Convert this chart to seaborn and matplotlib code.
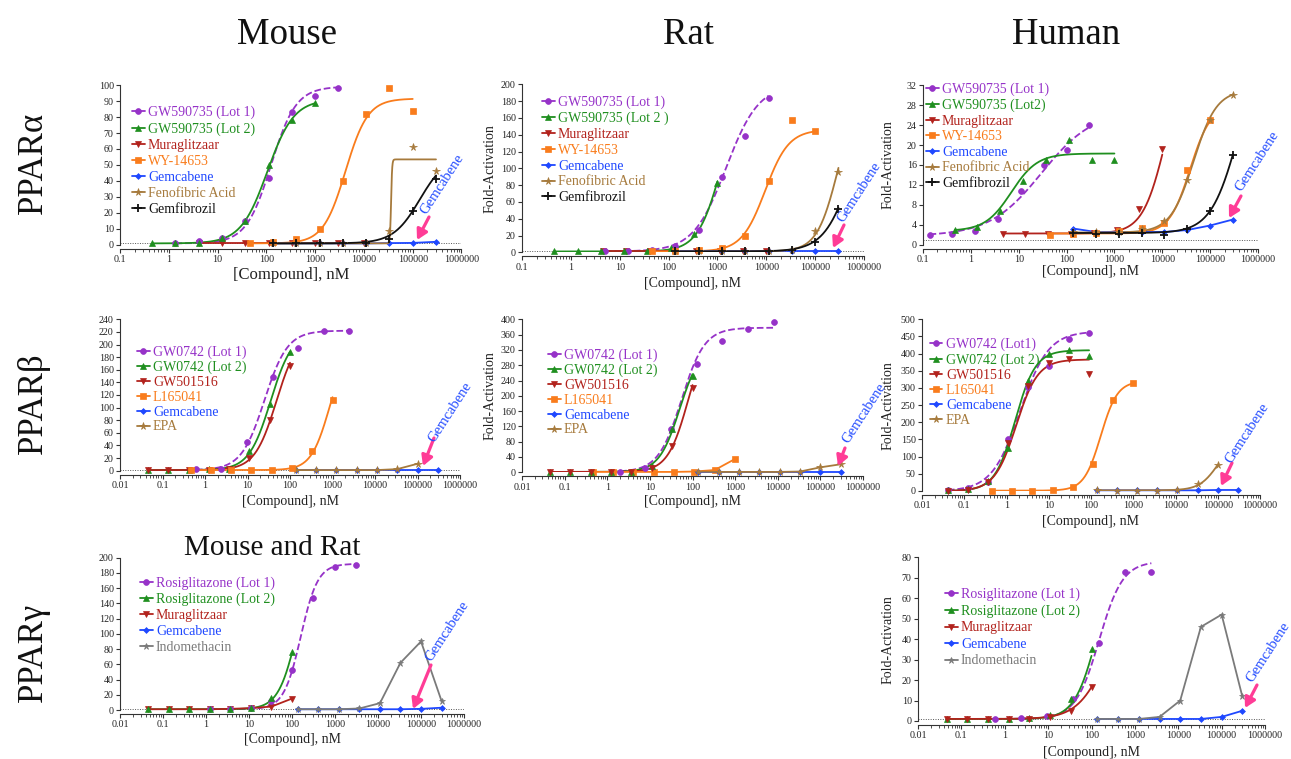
import numpy as np
import matplotlib
matplotlib.use("Agg")
import matplotlib.pyplot as plt
from matplotlib.lines import Line2D
from matplotlib.ticker import FixedLocator, LogLocator, NullFormatter, FuncFormatter
import seaborn as sns

W, H, DPI = 1291, 759, 100

# ------------------------------------------------------------------ data
# dilution series (nM)
DIL_P046 = [0.46, 1.37, 4.1, 12.3, 37, 111, 333, 1000]
DIL_046 = [0.046, 0.137, 0.41, 1.23, 3.7, 11.1, 33.3, 100]
DIL_137 = [137, 411, 1235, 3700, 11100, 33300, 100000, 300000]
DIL_46 = [46, 137, 411, 1235, 3700, 11100, 33300, 100000]
DIL_4P6 = [4.6, 13.7, 41, 123, 370, 1111, 3333, 10000]
DIL_EPA = [137, 411, 1235, 3700, 11100, 33300, 100000]

# fit parameters: [bottom, top, EC50 (nM), Hill slope]
# --- Mouse PPARa
MA_GW1_X = [1.37, 4.1, 12.3, 37, 111, 333, 1000, 3000]
MA_GW1_Y = [1.5, 2.5, 4.5, 15, 42, 83, 93, 98]
MA_GW1_FIT = [1, 99, 125, 1.7]
MA_GW2_Y = [1, 1, 1.5, 4.5, 15, 50, 78, 89]
MA_GW2_FIT = [1, 91, 105, 1.6]
MA_MUR_X = [4.1, 12.3, 37, 111, 333, 1000, 3000, 10000]
MA_MUR_Y = [1.2, 1.2, 1.2, 1.2, 1.2, 1.2, 1.2, 1.2]
MA_WY_Y = [1, 2, 3.7, 10, 40, 82, 98, 84]
MA_WY_FIT = [1, 91.5, 4200, 1.9]
MA_GEM_Y = [1, 1, 1, 1, 1, 1.2, 1.3, 2]
MA_FEN_Y = [1, 1, 1, 1, 1, 9, 61, 46]
MA_FEN_FIT = [1, 53.5, 36000, 40]
MA_GFZ_Y = [1, 1, 1, 1, 1.5, 4, 21, 41]
MA_GFZ_FIT = [1, 56, 140000, 1.6]
# --- Rat PPARa
RA_GW1_X = [5, 15, 46, 137, 412, 1235, 3700, 11100]
RA_GW1_Y = [1, 1.5, 3, 7, 26, 90, 139, 184]
RA_GW1_FIT = [1, 200, 1500, 1.3]
RA_GW2_Y = [1, 1, 1, 1, 1.5, 5.5, 22, 83]
RA_GW2_FIT = [1, 200, 1200, 1.8]
RA_MUR_Y = [1.5, 1.5, 1.5, 1.5, 1.5, 1.5, 1.5, 1.5]
RA_WY_Y = [1, 1.5, 3, 5, 19, 85, 158, 145]
RA_WY_FIT = [1, 146, 9500, 1.8]
RA_GEM_Y = [1, 1, 1, 1, 1, 1, 1, 1]
RA_FEN_Y = [1, 1, 1, 1, 1.5, 3, 25, 96]
RA_FEN_FIT = [1, 200, 300000, 2]
RA_GFZ_Y = [1, 1, 1, 1, 1, 2.5, 12, 51]
RA_GFZ_FIT = [1, 200, 600000, 1.5]
# --- Human PPARa
HA_GW1_X = [0.137, 0.41, 1.23, 3.7, 11.1, 33.3, 100, 300]
HA_GW1_Y = [2.1, 2.3, 2.8, 5.3, 10.9, 16, 19, 24]
HA_GW1_FIT = [1.8, 27, 30, 0.8]
HA_GW2_Y = [3.1, 3.7, 6.8, 12.8, 17, 21, 17, 17]
HA_GW2_FIT = [2.8, 18.3, 7, 1.6]
HA_MUR_Y = [2.3, 2.3, 2.3, 2.3, 2.4, 3.1, 7.2, 19.3]
HA_MUR_FIT = [2.3, 40, 12000, 1.8]
HA_WY_Y = [2.1, 2.2, 2.5, 2.8, 3.5, 4.5, 15, 25]
HA_WY_FIT = [2.3, 28, 38000, 2]
HA_GEM_Y = [3.3, 2.6, 2.6, 2.6, 2.6, 3.0, 3.9, 5.1]
HA_FEN_Y = [2.6, 2.6, 2.7, 3.2, 4.8, 13, 25, 30]
HA_FEN_FIT = [2.5, 31, 45000, 1.8]
HA_GFZ_Y = [2.5, 2.3, 2.3, 2.5, 2.1, 3.2, 6.8, 18]
HA_GFZ_FIT = [2.4, 42.4, 400000, 1.5]
# --- Mouse PPARb
MB_GW1_X = [0.61, 2.44, 9.8, 39, 156, 625, 2500]
MB_GW1_Y = [2, 3, 45, 148, 195, 221, 222]
MB_GW1_FIT = [1, 222, 25, 1.6]
MB_GW2_Y = [0.5, 0.5, 1, 2, 3, 32, 105, 188]
MB_GW2_FIT = [1, 220, 35, 1.7]
MB_501_Y = [1, 1, 1, 1.5, 3, 19.5, 80, 166]
MB_501_FIT = [1, 220, 48, 1.7]
MB_L16_Y = [1, 1, 0.5, 0.5, 1.5, 5, 32, 112]
MB_L16_FIT = [1, 200, 850, 2]
MB_GEM_Y = [1, 1, 1, 1, 1, 1, 1, 1]
MB_EPA_Y = [1, 1, 1, 1, 1, 2.5, 11]
# --- Rat PPARb
RB_GW1_X = [2, 7.8, 31, 125, 500, 2000, 8000]
RB_GW1_Y = [2, 10, 112, 282, 344, 374, 392]
RB_GW1_FIT = [1, 378, 55, 1.6]
RB_GW2_Y = [1, 1, 1, 1, 2, 17, 112, 252]
RB_GW2_FIT = [1, 330, 50, 1.8]
RB_501_Y = [1, 1, 1, 1, 2, 12, 69, 220]
RB_501_FIT = [1, 380, 80, 1.8]
RB_L16_Y = [1, 1, 1, 1, 1, 2, 6, 35]
RB_GEM_Y = [1, 1, 1, 1, 1, 1, 1, 1]
RB_EPA_Y = [2, 1, 1, 1, 1, 2, 13, 21]
# --- Human PPARb
HB_X = [0.041, 0.123, 0.37, 1.1, 3.3, 10, 30, 90]
HB_GW1_Y = [3, 8, 25, 150, 302, 364, 444, 459]
HB_GW1_FIT = [0, 465, 2.1, 1.3]
HB_GW2_Y = [2, 5, 28, 125, 320, 400, 410, 393]
HB_GW2_FIT = [0, 410, 1.6, 1.8]
HB_501_Y = [1, 2, 25, 140, 305, 374, 384, 342]
HB_501_FIT = [0, 383, 1.7, 1.7]
HB_L16_Y = [1, 1, 1, 2, 11, 79, 265, 314]
HB_L16_FIT = [1, 320, 170, 2.2]
HB_GEM_Y = [2, 2, 2, 2, 2, 2, 3, 3]
HB_EPA_Y = [3, 1, 1, 1, 2, 20, 75]
HB_EPA_FIT = [2, 150, 100000, 2]
# --- Mouse and Rat PPARg
MG_RO1_X = [1.23, 3.7, 11.1, 33.3, 100, 300, 1000, 3000]
MG_RO1_Y = [1, 1, 3, 12, 53, 147, 188, 191]
MG_RO1_FIT = [1, 192, 160, 2.2]
MG_RO2_Y = [1, 1, 1, 1, 1, 2, 16, 76]
MG_RO2_FIT = [1, 200, 130, 2]
MG_MUR_Y = [1, 1, 1, 1, 1.5, 2.5, 4.5, 15]
MG_GEM_Y = [1, 1, 1, 1, 1, 1, 1.5, 3]
MG_IND_Y = [1, 1, 1, 2, 9, 62, 90, 12]
# --- Human PPARg
HG_RO1_X = [0.6, 2.4, 9.4, 37.5, 150, 600, 2400]
HG_RO1_Y = [0.8, 1.3, 2.5, 10.6, 38, 73, 73]
HG_RO1_FIT = [1, 78, 150, 1.6]
HG_RO2_Y = [1, 1, 1, 1, 1.5, 3, 10.6, 35]
HG_RO2_FIT = [1, 80, 130, 1.7]
HG_MUR_Y = [1, 1, 1, 1, 1, 2, 5, 16.8]
HG_MUR_FIT = [1, 60, 220, 1.3]
HG_GEM_Y = [1, 1, 1, 1, 1, 1, 2, 5]
HG_IND_Y = [1, 1, 1, 2, 10, 46, 52, 12]

COL_TITLES = ["Mouse", "Rat", "Human"]
ROW_TITLES = ["PPARα", "PPARβ", "PPARγ"]

# ------------------------------------------------------------------ style
PURPLE, GREEN, DRED, ORANGE = "#9632c8", "#1f8f1f", "#b2221c", "#f97c1c"
BLUE, TAN, BLACK, GRAY, PINK = "#1f48ff", "#a67a3c", "#111111", "#7a7a7a", "#ff3c96"
STY = {
    "lot1": (PURPLE, "o", "--", 4.2),
    "lot2": (GREEN, "^", "-", 4.4),
    "mur": (DRED, "v", "-", 4.4),
    "wy": (ORANGE, "s", "-", 4.2),
    "gem": (BLUE, "D", "-", 3.0),
    "fen": (TAN, "*", "-", 5.5),
    "gfz": (BLACK, "+", "-", 5.5),
    "ind": (GRAY, "*", "-", 5.0),
}

# panel layout in pixels: left, right, top(ymax), bottom(y=0)
PANELS = [
    dict(box=(120, 461.5, 85, 245), xmin=0.1, ymax=100, ystep=10,
         series=[("GW590735 (Lot 1)", "lot1", MA_GW1_X, MA_GW1_Y, MA_GW1_FIT),
                 ("GW590735 (Lot 2)", "lot2", DIL_P046, MA_GW2_Y, MA_GW2_FIT),
                 ("Muraglitzaar", "mur", MA_MUR_X, MA_MUR_Y, None),
                 ("WY-14653", "wy", DIL_46, MA_WY_Y, MA_WY_FIT),
                 ("Gemcabene", "gem", DIL_137, MA_GEM_Y, None),
                 ("Fenofibric Acid", "fen", DIL_137, MA_FEN_Y, MA_FEN_FIT),
                 ("Gemfibrozil", "gfz", DIL_137, MA_GFZ_Y, MA_GFZ_FIT)],
         leg=(132, 111, 15.8), ylab=None, xlab=(30, 12),
         gtext=(442, 184), arrow=((429, 217), (417, 240))),
    dict(box=(522, 864, 84.3, 252.3), xmin=0.1, ymax=200, ystep=20,
         series=[("GW590735 (Lot 1)", "lot1", RA_GW1_X, RA_GW1_Y, RA_GW1_FIT),
                 ("GW590735 (Lot 2 )", "lot2", DIL_P046, RA_GW2_Y, RA_GW2_FIT),
                 ("Muraglitzaar", "mur", DIL_4P6, RA_MUR_Y, None),
                 ("WY-14653", "wy", DIL_46, RA_WY_Y, RA_WY_FIT),
                 ("Gemcabene", "gem", DIL_137, RA_GEM_Y, None),
                 ("Fenofibric Acid", "fen", DIL_137, RA_FEN_Y, RA_FEN_FIT),
                 ("Gemfibrozil", "gfz", DIL_137, RA_GFZ_Y, RA_GFZ_FIT)],
         leg=(542, 101, 15.5), ylab=490, xlab=(31, 10),
         gtext=(859, 192), arrow=((844, 225), (833, 248))),
    dict(box=(923, 1258, 85, 245), xmin=0.1, ymax=32, ystep=4,
         series=[("GW590735 (Lot 1)", "lot1", HA_GW1_X, HA_GW1_Y, HA_GW1_FIT),
                 ("GW590735 (Lot2)", "lot2", DIL_P046, HA_GW2_Y, HA_GW2_FIT),
                 ("Muraglitzaar", "mur", DIL_4P6, HA_MUR_Y, HA_MUR_FIT),
                 ("WY-14653", "wy", DIL_46, HA_WY_Y, HA_WY_FIT),
                 ("Gemcabene", "gem", DIL_137, HA_GEM_Y, None),
                 ("Fenofibric Acid", "fen", DIL_137, HA_FEN_Y, HA_FEN_FIT),
                 ("Gemfibrozil", "gfz", DIL_137, HA_GFZ_Y, HA_GFZ_FIT)],
         leg=(926, 88, 15.3), ylab=888, xlab=(27, 10),
         gtext=(1257, 161), arrow=((1241, 196), (1229, 218))),
    dict(box=(120, 460, 319.3, 470.7), xmin=0.01, ymax=240, ystep=20,
         series=[("GW0742 (Lot 1)", "lot1", MB_GW1_X, MB_GW1_Y, MB_GW1_FIT),
                 ("GW0742 (Lot 2)", "lot2", DIL_046, MB_GW2_Y, MB_GW2_FIT),
                 ("GW501516", "mur", DIL_046, MB_501_Y, MB_501_FIT),
                 ("L165041", "wy", DIL_P046, MB_L16_Y, MB_L16_FIT),
                 ("Gemcabene", "gem", DIL_137, MB_GEM_Y, None),
                 ("EPA", "fen", DIL_EPA, MB_EPA_Y, None)],
         leg=(137, 351, 14.5), ylab=None, xlab=(31, 10),
         gtext=(450, 412), arrow=((434, 438), (423, 466))),
    dict(box=(522, 863, 319.3, 472.3), xmin=0.01, ymax=400, ystep=40,
         series=[("GW0742 (Lot 1)", "lot1", RB_GW1_X, RB_GW1_Y, RB_GW1_FIT),
                 ("GW0742 (Lot 2)", "lot2", DIL_046, RB_GW2_Y, RB_GW2_FIT),
                 ("GW501516", "mur", DIL_046, RB_501_Y, RB_501_FIT),
                 ("L165041", "wy", DIL_P046, RB_L16_Y, None),
                 ("Gemcabene", "gem", DIL_137, RB_GEM_Y, None),
                 ("EPA", "fen", DIL_137, RB_EPA_Y, None)],
         leg=(548, 354, 14.5), ylab=490, xlab=(29.5, 10),
         gtext=(864, 413), arrow=((845, 448), (838, 466))),
    dict(box=(922, 1260, 319.3, 491), xmin=0.01, ymax=500, ystep=50,
         series=[("GW0742 (Lot1)", "lot1", HB_X, HB_GW1_Y, HB_GW1_FIT),
                 ("GW0742 (Lot 2)", "lot2", HB_X, HB_GW2_Y, HB_GW2_FIT),
                 ("GW501516", "mur", HB_X, HB_501_Y, HB_501_FIT),
                 ("L165041", "wy", DIL_P046, HB_L16_Y, HB_L16_FIT),
                 ("Gemcabene", "gem", DIL_137, HB_GEM_Y, None),
                 ("EPA", "fen", DIL_EPA, HB_EPA_Y, HB_EPA_FIT)],
         leg=(930, 343, 14.8), ylab=888, xlab=(30.5, 10),
         gtext=(1247, 433), arrow=((1232, 463), (1221, 486))),
    dict(box=(120, 464, 557.7, 710), xmin=0.01, ymax=200, ystep=20,
         series=[("Rosiglitazone (Lot 1)", "lot1", MG_RO1_X, MG_RO1_Y, MG_RO1_FIT),
                 ("Rosiglitazone (Lot 2)", "lot2", DIL_046, MG_RO2_Y, MG_RO2_FIT),
                 ("Muraglitzaar", "mur", DIL_046, MG_MUR_Y, None),
                 ("Gemcabene", "gem", DIL_137, MG_GEM_Y, None),
                 ("Indomethacin", "ind", DIL_137, MG_IND_Y, None)],
         leg=(140, 582, 15.5), ylab=None, xlab=(29.5, 10),
         gtext=(447, 631), arrow=((431, 665), (413, 709))),
    dict(box=(918, 1265, 557.3, 721), xmin=0.01, ymax=80, ystep=10,
         series=[("Rosiglitazone (Lot 1)", "lot1", HG_RO1_X, HG_RO1_Y, HG_RO1_FIT),
                 ("Rosiglitazone (Lot 2)", "lot2", DIL_046, HG_RO2_Y, HG_RO2_FIT),
                 ("Muraglitzaar", "mur", DIL_046, HG_MUR_Y, HG_MUR_FIT),
                 ("Gemcabene", "gem", DIL_137, HG_GEM_Y, None),
                 ("Indomethacin", "ind", DIL_137, HG_IND_Y, None)],
         leg=(945, 593, 16.2), ylab=888, xlab=(31.5, 10),
         gtext=(1268, 652), arrow=((1257, 685), (1245, 708))),
]

# ------------------------------------------------------------------ drawing
sns.set_theme(style="ticks")
plt.rcParams["font.family"] = ["Liberation Serif", "DejaVu Serif"]
plt.rcParams["axes.linewidth"] = 0.8

fig = plt.figure(figsize=(W / DPI, H / DPI), dpi=DPI)
fig.patch.set_facecolor("white")

LW = 1.3
LEG_FS = 10.0
FS_PX = LEG_FS * DPI / 72
TEXT_H = 0.915 * FS_PX          # height that matplotlib gives a legend row


def four_pl(x, p):
    b, t, ec, h = p
    return b + (t - b) / (1.0 + (ec / x) ** h)


def tick_fmt(v, pos):
    return f"{int(round(v))}" if v >= 1 else f"{v:g}"


for P in PANELS:
    L, R, T, B = P["box"]
    wpx, hpx = R - L, B - T
    ax = fig.add_axes([L / W, 1 - B / H, wpx / W, hpx / H])
    ax.set_xscale("log")
    ax.set_xlim(P["xmin"], 1e6)
    ax.set_ylim(0, P["ymax"])
    ax.axhline(1, color="#555555", lw=0.7, ls=(0, (1, 1.5)), zorder=1)

    handles, labels, colors = [], [], []
    for label, key, X, Y, fit in P["series"]:
        c, m, ls, ms = STY[key]
        mew = 1.3 if m == "+" else 0.5
        if fit is not None:
            xs = np.logspace(np.log10(min(X)), np.log10(max(X)), 400)
            sns.lineplot(x=xs, y=four_pl(xs, fit), ax=ax, color=c, lw=LW,
                         linestyle=ls, zorder=3)
            sns.lineplot(x=X, y=Y, ax=ax, color=c, linestyle="", marker=m,
                         markersize=ms, mec=c, mew=mew, zorder=4, clip_on=False)
        else:
            sns.lineplot(x=X, y=Y, ax=ax, color=c, lw=LW, linestyle=ls,
                         marker=m, markersize=ms, mec=c, mew=mew, zorder=3,
                         clip_on=False)
        handles.append(Line2D([], [], color=c, lw=LW, marker=m, markersize=ms,
                              mec=c, mew=mew))
        labels.append(label)
        colors.append(c)

    # axes cosmetics
    sns.despine(ax=ax)
    ax.spines["bottom"].set_position(("outward", 3))
    for s in ("left", "bottom"):
        ax.spines[s].set_color("#333333")
    decades = [10.0 ** k for k in range(int(round(np.log10(P["xmin"]))), 7)]
    ax.xaxis.set_major_locator(FixedLocator(decades))
    ax.xaxis.set_major_formatter(FuncFormatter(tick_fmt))
    ax.xaxis.set_minor_locator(LogLocator(base=10, subs=np.arange(2, 10), numticks=40))
    ax.xaxis.set_minor_formatter(NullFormatter())
    ax.yaxis.set_major_locator(FixedLocator(np.arange(0, P["ymax"] + 0.5 * P["ystep"], P["ystep"])))
    ax.tick_params(axis="both", which="major", direction="out", length=3, width=0.8,
                   labelsize=7.2, pad=1.5, color="#333333", labelcolor="#222222")
    ax.tick_params(axis="x", which="minor", direction="out", length=1.8, width=0.6,
                   color="#333333")

    off, xfs = P["xlab"]
    ax.set_xlabel("[Compound], nM", fontsize=xfs, color="#222222")
    ax.xaxis.set_label_coords(0.5, -off / hpx)
    ax.xaxis.label.set_va("center")
    if P["ylab"] is not None:
        ax.set_ylabel("Fold-Activation", fontsize=10, color="#222222")
        ax.yaxis.set_label_coords((P["ylab"] - L) / wpx, 0.5)
        ax.yaxis.label.set_va("center")
        ax.yaxis.label.set_ha("center")
    else:
        ax.set_ylabel("")

    lx, ly, pitch = P["leg"]
    lsp = (pitch - TEXT_H) / FS_PX
    leg = ax.legend(handles, labels, loc="upper left",
                    bbox_to_anchor=(lx / W, 1 - (ly - 5.5) / H),
                    bbox_transform=fig.transFigure, frameon=False, fontsize=LEG_FS,
                    handlelength=0.9, handletextpad=0.25, labelspacing=lsp,
                    borderpad=0, borderaxespad=0)
    for t, c in zip(leg.get_texts(), colors):
        t.set_color(c)

    gx, gy = P["gtext"]
    fig.text(gx / W, 1 - gy / H, "Gemcabene", rotation=57, rotation_mode="anchor",
             ha="center", va="center", color=BLUE, fontsize=10.5)
    (ax0, ay0), (ax1, ay1) = P["arrow"]
    ax.annotate("", xy=(ax1, H - ay1), xytext=(ax0, H - ay0),
                xycoords="figure pixels", textcoords="figure pixels",
                arrowprops=dict(arrowstyle="-|>,head_length=0.5,head_width=0.28",
                                color=PINK, lw=2.3, shrinkA=0, shrinkB=0,
                                mutation_scale=12),
                annotation_clip=False)

# column / row titles
for name, cx in zip(COL_TITLES, [287, 688, 1066]):
    fig.text(cx / W, 1 - 44 / H, name, ha="center", va="baseline", fontsize=26.5,
             color="#111111")
for name, cy in zip(ROW_TITLES, [163, 403, 652]):
    fig.text(42 / W, 1 - cy / H, name, rotation=90, rotation_mode="anchor",
             ha="center", va="baseline", fontsize=25, color="#111111")
fig.text(272 / W, 1 - 555 / H, "Mouse and Rat", ha="center", va="baseline",
         fontsize=21, color="#111111")

fig.savefig("out.png", dpi=DPI, facecolor="white")
